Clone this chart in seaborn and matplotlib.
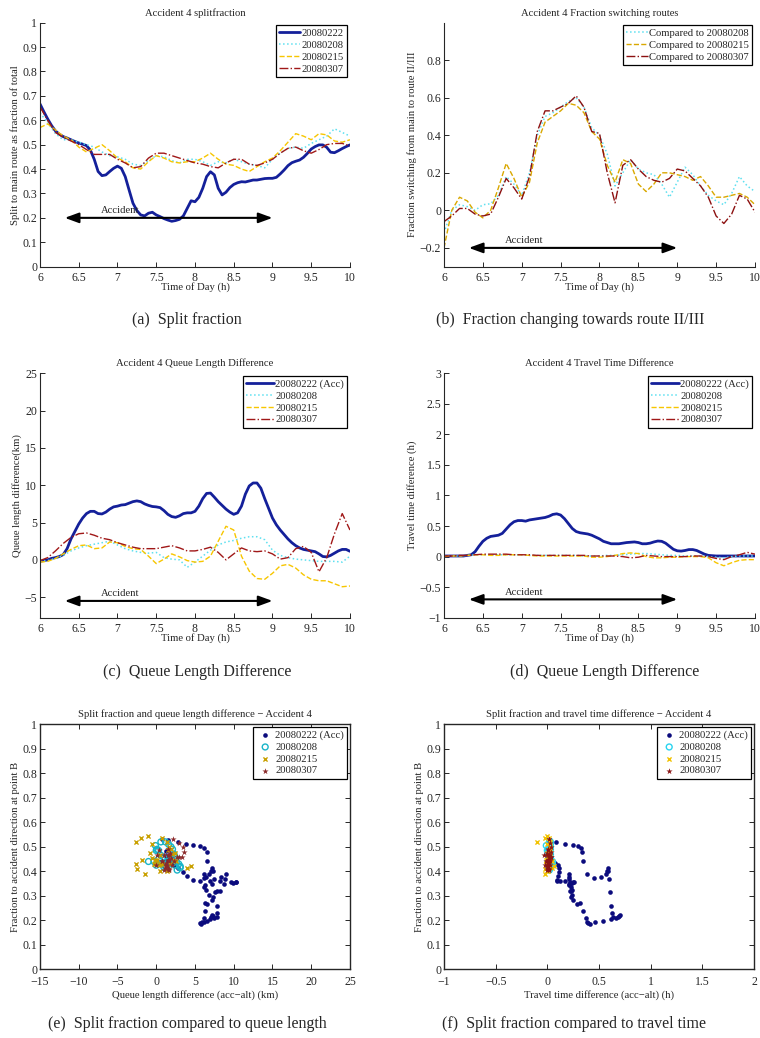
import matplotlib
matplotlib.use('Agg')
import matplotlib.pyplot as plt
import numpy as np
import pandas as pd
import seaborn as sns

# --- data ---------------------------------------------------------------
HOURS = [6.0, 6.1, 6.2, 6.3, 6.4, 6.5, 6.6, 6.7, 6.8, 6.9,
         7.0, 7.1, 7.2, 7.3, 7.4, 7.5, 7.6, 7.7, 7.8, 7.9,
         8.0, 8.1, 8.2, 8.3, 8.4, 8.5, 8.6, 8.7, 8.8, 8.9,
         9.0, 9.1, 9.2, 9.3, 9.4, 9.5, 9.6, 9.7, 9.8, 9.9, 10.0]

HOURS_FINE = [6.0, 6.05, 6.1, 6.15, 6.2, 6.25, 6.3, 6.35, 6.4, 6.45,
              6.5, 6.55, 6.6, 6.65, 6.7, 6.75, 6.8, 6.85, 6.9, 6.95,
              7.0, 7.05, 7.1, 7.15, 7.2, 7.25, 7.3, 7.35, 7.4, 7.45,
              7.5, 7.55, 7.6, 7.65, 7.7, 7.75, 7.8, 7.85, 7.9, 7.95,
              8.0, 8.05, 8.1, 8.15, 8.2, 8.25, 8.3, 8.35, 8.4, 8.45,
              8.5, 8.55, 8.6, 8.65, 8.7, 8.75, 8.8, 8.85, 8.9, 8.95,
              9.0, 9.05, 9.1, 9.15, 9.2, 9.25, 9.3, 9.35, 9.4, 9.45,
              9.5, 9.55, 9.6, 9.65, 9.7, 9.75, 9.8, 9.85, 9.9, 9.95, 10.0]

# accident day (20080222), fine grid
SPLIT_ACC = [0.667, 0.635, 0.605, 0.578, 0.556, 0.543, 0.533, 0.527, 0.520, 0.513,
             0.507, 0.502, 0.496, 0.478, 0.440, 0.390, 0.373, 0.376, 0.390, 0.403,
             0.412, 0.403, 0.369, 0.314, 0.260, 0.230, 0.212, 0.208, 0.219, 0.223,
             0.212, 0.205, 0.197, 0.191, 0.186, 0.189, 0.194, 0.208, 0.239, 0.270,
             0.266, 0.284, 0.321, 0.369, 0.389, 0.376, 0.321, 0.294, 0.305, 0.324,
             0.337, 0.344, 0.348, 0.347, 0.351, 0.355, 0.355, 0.358, 0.361, 0.362,
             0.362, 0.366, 0.380, 0.396, 0.414, 0.426, 0.432, 0.437, 0.448, 0.464,
             0.482, 0.492, 0.499, 0.499, 0.489, 0.469, 0.467, 0.475, 0.484, 0.492, 0.499]
QUEUE_ACC = [-0.2, -0.1, 0.0, 0.2, 0.3, 0.45, 0.7, 1.5, 2.8, 3.8,
             4.8, 5.6, 6.2, 6.5, 6.5, 6.2, 6.15, 6.4, 6.8, 7.1,
             7.2, 7.35, 7.4, 7.6, 7.8, 7.9, 7.8, 7.5, 7.3, 7.15,
             7.1, 7.0, 6.6, 6.1, 5.8, 5.7, 5.9, 6.2, 6.3, 6.3,
             6.5, 7.2, 8.2, 8.9, 8.95, 8.4, 7.8, 7.3, 6.8, 6.4,
             6.1, 6.3, 7.2, 8.8, 9.9, 10.3, 10.3, 9.6, 8.2, 6.9,
             5.6, 4.7, 4.0, 3.4, 2.8, 2.3, 1.9, 1.6, 1.4, 1.3,
             1.2, 1.1, 0.8, 0.45, 0.4, 0.6, 0.9, 1.2, 1.4, 1.4, 1.15]
TRAVEL_ACC = [0.01, 0.01, 0.01, 0.01, 0.01, 0.01, 0.02, 0.03, 0.08, 0.17,
              0.25, 0.30, 0.33, 0.34, 0.35, 0.38, 0.45, 0.52, 0.57, 0.59,
              0.59, 0.58, 0.60, 0.61, 0.62, 0.63, 0.64, 0.66, 0.69, 0.70,
              0.68, 0.62, 0.54, 0.46, 0.41, 0.39, 0.38, 0.37, 0.35, 0.32,
              0.29, 0.25, 0.23, 0.21, 0.21, 0.21, 0.22, 0.23, 0.235, 0.24,
              0.23, 0.21, 0.21, 0.22, 0.24, 0.255, 0.25, 0.22, 0.17, 0.12,
              0.095, 0.09, 0.10, 0.115, 0.115, 0.10, 0.07, 0.04, 0.02, 0.015,
              0.01, 0.01, 0.01, 0.01, 0.01, 0.01, 0.01, 0.01, 0.01, 0.01, 0.01]

# reference days, coarse grid
SPLIT_0208 = [0.63, 0.59, 0.545, 0.52, 0.52, 0.51, 0.50, 0.49, 0.47, 0.455,
              0.45, 0.44, 0.42, 0.415, 0.435, 0.455, 0.45, 0.435, 0.425, 0.44,
              0.44, 0.43, 0.415, 0.43, 0.425, 0.44, 0.43, 0.42, 0.415, 0.405,
              0.44, 0.465, 0.485, 0.49, 0.485, 0.505, 0.52, 0.535, 0.565, 0.55, 0.535]
SPLIT_0215 = [0.57, 0.585, 0.56, 0.535, 0.52, 0.49, 0.47, 0.485, 0.50, 0.475,
              0.445, 0.43, 0.405, 0.40, 0.43, 0.455, 0.445, 0.43, 0.425, 0.43,
              0.43, 0.445, 0.465, 0.44, 0.42, 0.415, 0.40, 0.39, 0.41, 0.43,
              0.445, 0.475, 0.51, 0.545, 0.535, 0.52, 0.545, 0.54, 0.515, 0.51, 0.52]
SPLIT_0307 = [0.655, 0.60, 0.55, 0.53, 0.515, 0.50, 0.48, 0.46, 0.46, 0.46,
              0.44, 0.425, 0.405, 0.41, 0.445, 0.465, 0.465, 0.455, 0.445, 0.435,
              0.425, 0.42, 0.41, 0.405, 0.425, 0.44, 0.44, 0.42, 0.415, 0.425,
              0.44, 0.465, 0.485, 0.49, 0.475, 0.465, 0.48, 0.50, 0.505, 0.505, 0.495]

SWITCH_0208 = [-0.12, 0.0, 0.03, 0.02, 0.0, 0.03, 0.035, 0.08, 0.18, 0.14,
               0.08, 0.20, 0.40, 0.50, 0.52, 0.55, 0.58, 0.60, 0.55, 0.44,
               0.40, 0.30, 0.13, 0.20, 0.27, 0.22, 0.20, 0.19, 0.14, 0.07,
               0.15, 0.23, 0.19, 0.13, 0.08, 0.05, 0.03, 0.09, 0.18, 0.13, 0.10]
SWITCH_0215 = [-0.20, 0.0, 0.07, 0.05, -0.01, -0.04, 0.0, 0.12, 0.25, 0.17,
               0.07, 0.15, 0.36, 0.47, 0.50, 0.53, 0.57, 0.56, 0.52, 0.42,
               0.38, 0.24, 0.15, 0.27, 0.25, 0.14, 0.10, 0.14, 0.20, 0.20,
               0.19, 0.18, 0.16, 0.18, 0.13, 0.07, 0.07, 0.08, 0.09, 0.07, 0.03]
SWITCH_0307 = [-0.06, -0.03, 0.01, 0.01, -0.02, -0.03, -0.02, 0.07, 0.17, 0.12,
               0.06, 0.18, 0.42, 0.53, 0.53, 0.55, 0.57, 0.61, 0.55, 0.42,
               0.41, 0.20, 0.04, 0.24, 0.27, 0.22, 0.18, 0.16, 0.15, 0.17,
               0.22, 0.21, 0.17, 0.13, 0.07, -0.03, -0.07, -0.02, 0.08, 0.06, -0.01]

QUEUE_0208 = [-0.2, -0.1, 0.2, 0.6, 1.2, 1.6, 1.9, 2.1, 2.3, 2.5,
              2.0, 1.5, 1.2, 1.0, 0.9, 1.0, 0.3, 0.1, 0.0, -1.0,
              -0.3, 0.5, 1.3, 2.0, 2.4, 2.6, 2.9, 3.1, 3.1, 2.7,
              1.3, 0.6, 0.3, 0.1, 0.0, -0.1, -0.2, -0.2, -0.2, -0.3, 0.5]
QUEUE_0215 = [-0.3, -0.2, 0.2, 0.8, 1.4, 1.9, 2.0, 1.5, 1.6, 2.4,
              2.3, 1.8, 1.5, 1.4, 0.5, -0.5, 0.1, 0.8, 0.4, -0.1,
              -0.3, -0.2, 0.5, 2.5, 4.5, 4.0, 0.5, -1.5, -2.5, -2.6,
              -1.8, -0.8, -0.6, -1.1, -2.0, -2.6, -2.8, -2.8, -3.2, -3.6, -3.5]
QUEUE_0307 = [-0.1, 0.3, 1.2, 2.2, 3.0, 3.5, 3.6, 3.3, 2.9, 2.7,
              2.3, 2.0, 1.7, 1.5, 1.5, 1.5, 1.7, 1.9, 1.6, 1.2,
              1.2, 1.4, 1.7, 1.0, 0.0, 0.8, 1.6, 1.2, 1.1, 1.2,
              0.8, 0.1, 0.3, 1.5, 1.8, 1.0, -1.6, 0.3, 3.5, 6.2, 4.0]

TRAVEL_0208 = [0.01, 0.01, 0.01, 0.02, 0.03, 0.03, 0.03, 0.03, 0.03, 0.03,
               0.03, 0.02, 0.02, 0.02, 0.02, 0.02, 0.02, 0.02, 0.01, 0.01,
               0.01, 0.02, 0.02, 0.03, 0.04, 0.05, 0.05, 0.04, 0.03, 0.02,
               0.02, 0.01, 0.01, 0.01, 0.0, -0.01, -0.02, 0.0, 0.01, 0.01, 0.01]
TRAVEL_0215 = [0.0, 0.01, 0.01, 0.02, 0.03, 0.03, 0.02, 0.02, 0.03, 0.03,
               0.03, 0.02, 0.01, 0.01, 0.01, 0.01, 0.01, 0.01, 0.01, -0.01,
               -0.01, 0.0, 0.02, 0.05, 0.06, 0.05, 0.0, -0.02, -0.02, -0.01,
               -0.01, 0.0, 0.0, 0.0, -0.02, -0.10, -0.15, -0.10, -0.06, -0.05, -0.05]
TRAVEL_0307 = [0.01, 0.01, 0.02, 0.02, 0.03, 0.04, 0.04, 0.04, 0.04, 0.03,
               0.03, 0.03, 0.02, 0.02, 0.02, 0.02, 0.02, 0.02, 0.02, 0.01,
               0.01, 0.01, 0.01, 0.0, -0.02, -0.01, 0.02, 0.01, 0.0, 0.0,
               0.0, 0.0, 0.01, 0.01, 0.0, -0.03, -0.05, 0.0, 0.03, 0.07, 0.04]

DAYS = ['20080222', '20080208', '20080215', '20080307']
ACC_START, ACC_END = 6.32, 9.0          # accident period (h)
SCATTER_WINDOW = (6.3, 9.5)             # time window used for scatter panels

X_TICKS = [6, 6.5, 7, 7.5, 8, 8.5, 9, 9.5, 10]
X_TICK_LABELS = ['6', '6.5', '7', '7.5', '8', '8.5', '9', '9.5', '10']

# --- style ----------------------------------------------------------------
sns.set_style('ticks')
plt.rcParams['font.family'] = ['Liberation Serif', 'DejaVu Serif']
plt.rcParams['axes.linewidth'] = 0.8
FS = 7.7
TICK_FS = 8.5

NAVY = '#14209a'
LINE_STYLES = {
    '20080222': dict(color=NAVY, lw=2.0, ls='-'),
    '20080208': dict(color='#5ee0f0', lw=1.1, ls=':'),
    '20080215': dict(color='#f7c600', lw=1.0, ls='--'),
    '20080307': dict(color='#a01818', lw=1.0, ls='-.'),
}


def fmt(v):
    s = f'{v:g}'
    return s.replace('-', '\u2212')


def style_ticks(ax, xpad=3.5, **kw):
    ax.tick_params(direction='in', length=3.5, width=0.7, labelsize=TICK_FS, **kw)
    ax.tick_params(axis='x', pad=xpad)
    ax.tick_params(axis='y', pad=2)


def time_axis(ax, title, ylabel, ylim, yticks):
    ax.set_xlim(6, 10)
    ax.set_ylim(*ylim)
    ax.set_xticks(X_TICKS)
    ax.set_xticklabels(X_TICK_LABELS)
    ax.set_yticks(yticks)
    ax.set_yticklabels([fmt(v) for v in yticks])
    style_ticks(ax)
    sns.despine(ax=ax)
    ax.set_title(title, fontsize=FS, pad=5)
    ax.set_xlabel('Time of Day (h)', fontsize=FS, labelpad=-1)
    ax.set_ylabel(ylabel, fontsize=FS, labelpad=2)


def accident_arrow(ax, level):
    ax.annotate('', xy=(ACC_END, level), xytext=(ACC_START, level),
                arrowprops=dict(arrowstyle='<|-|>,head_length=0.6,head_width=0.22',
                                color='k', lw=1.5, mutation_scale=14,
                                shrinkA=0, shrinkB=0))
    ax.annotate('Accident', ((ACC_START + ACC_END) / 2 - 0.63, level), xytext=(0, 2),
                textcoords='offset points', ha='center', va='bottom', fontsize=FS)


def box_legend(ax, **kw):
    leg = ax.legend(loc='upper right', fontsize=FS, fancybox=False, framealpha=1,
                    edgecolor='k', borderaxespad=0.25, borderpad=0.3,
                    labelspacing=0.22, handletextpad=0.15, **kw)
    leg.get_frame().set_linewidth(0.9)
    return leg


fig = plt.figure(figsize=(7.6, 10.38), dpi=100)
ax_a = fig.add_axes([0.0526, 0.7431, 0.4079, 0.2351])
ax_b = fig.add_axes([0.5842, 0.7431, 0.4092, 0.2351])
ax_c = fig.add_axes([0.0526, 0.4049, 0.4079, 0.2355])
ax_d = fig.add_axes([0.5842, 0.4049, 0.4092, 0.2355])
ax_e = fig.add_axes([0.0526, 0.0662, 0.4079, 0.2360])
ax_f = fig.add_axes([0.5842, 0.0662, 0.4079, 0.2360])

# (a) split fraction
for day, xs, ys in [('20080222', HOURS_FINE, SPLIT_ACC), ('20080208', HOURS, SPLIT_0208),
                    ('20080215', HOURS, SPLIT_0215), ('20080307', HOURS, SPLIT_0307)]:
    st = LINE_STYLES[day]
    sns.lineplot(x=xs, y=ys, ax=ax_a, color=st['color'], lw=st['lw'], ls=st['ls'], label=day)
time_axis(ax_a, 'Accident 4 splitfraction', 'Split to main route as fraction of total',
          (0, 1), [0, 0.1, 0.2, 0.3, 0.4, 0.5, 0.6, 0.7, 0.8, 0.9, 1])
accident_arrow(ax_a, 0.2)
box_legend(ax_a, handlelength=2.0)

# (b) fraction switching routes
B_STYLES = {'20080208': dict(color='#5ee0f0', lw=1.1, ls=':'),
            '20080215': dict(color='#d9a800', lw=1.0, ls='--'),
            '20080307': dict(color='#8c1010', lw=1.0, ls='-.')}
for day, ys in [('20080208', SWITCH_0208), ('20080215', SWITCH_0215), ('20080307', SWITCH_0307)]:
    st = B_STYLES[day]
    sns.lineplot(x=HOURS, y=ys, ax=ax_b, color=st['color'], lw=st['lw'], ls=st['ls'],
                 label=f'Compared to {day}')
time_axis(ax_b, 'Accident 4 Fraction switching routes', 'Fraction switching from main to route II/III',
          (-0.3, 1.0), [-0.2, 0, 0.2, 0.4, 0.6, 0.8])
accident_arrow(ax_b, -0.2)
box_legend(ax_b, handlelength=2.0)

# (c) queue length difference
for day, xs, ys in [('20080222', HOURS_FINE, QUEUE_ACC), ('20080208', HOURS, QUEUE_0208),
                    ('20080215', HOURS, QUEUE_0215), ('20080307', HOURS, QUEUE_0307)]:
    st = LINE_STYLES[day]
    lab = day + ' (Acc)' if day == '20080222' else day
    sns.lineplot(x=xs, y=ys, ax=ax_c, color=st['color'], lw=st['lw'], ls=st['ls'], label=lab)
time_axis(ax_c, 'Accident 4 Queue Length Difference', 'Queue length difference(km)',
          (-7.75, 25), [-5, 0, 5, 10, 15, 20, 25])
accident_arrow(ax_c, -5.5)
box_legend(ax_c, handlelength=2.6)

# (d) travel time difference
for day, xs, ys in [('20080222', HOURS_FINE, TRAVEL_ACC), ('20080208', HOURS, TRAVEL_0208),
                    ('20080215', HOURS, TRAVEL_0215), ('20080307', HOURS, TRAVEL_0307)]:
    st = LINE_STYLES[day]
    lab = day + ' (Acc)' if day == '20080222' else day
    sns.lineplot(x=xs, y=ys, ax=ax_d, color=st['color'], lw=st['lw'], ls=st['ls'], label=lab)
time_axis(ax_d, 'Accident 4 Travel Time Difference', 'Travel time difference (h)',
          (-1, 3), [-1, -0.5, 0, 0.5, 1, 1.5, 2, 2.5, 3])
accident_arrow(ax_d, -0.7)
box_legend(ax_d, handlelength=2.6)


# (e), (f) scatter of split fraction against queue / travel-time difference
def in_window(hours):
    h = np.asarray(hours)
    return (h >= SCATTER_WINDOW[0]) & (h <= SCATTER_WINDOW[1])


def scatter_panel(ax, pairs, colors, title, xlabel, xlim, xticks):
    markers = {'20080222': dict(marker='o', s=11, linewidth=0),
               '20080208': dict(marker='o', s=18, facecolor='none', linewidth=1.0),
               '20080215': dict(marker='x', s=9, linewidth=1.0),
               '20080307': dict(marker='*', s=22, linewidth=0)}
    for day, hours, xs, ys in pairs:
        m = in_window(hours)
        df = pd.DataFrame({'x': np.asarray(xs)[m], 'y': np.asarray(ys)[m]})
        lab = day + ' (Acc)' if day == '20080222' else day
        kw = dict(markers[day])
        if kw.get('facecolor') == 'none':
            kw['edgecolor'] = colors[day]
        sns.scatterplot(data=df, x='x', y='y', ax=ax, color=colors[day], label=lab, **kw)
    ax.set_xlim(*xlim)
    ax.set_ylim(0, 1)
    ax.set_xticks(xticks)
    ax.set_xticklabels([fmt(v) for v in xticks])
    yt = [0, 0.1, 0.2, 0.3, 0.4, 0.5, 0.6, 0.7, 0.8, 0.9, 1]
    ax.set_yticks(yt)
    ax.set_yticklabels([fmt(v) for v in yt])
    style_ticks(ax, xpad=5, top=True, right=True)
    for sp in ax.spines.values():
        sp.set_visible(True)
        sp.set_linewidth(1.0)
    ax.set_title(title, fontsize=FS, pad=5)
    ax.set_xlabel(xlabel, fontsize=FS, labelpad=1)
    ax.set_ylabel('Fraction to accident direction at point B', fontsize=FS, labelpad=2)
    leg = box_legend(ax, handlelength=1.6, markerscale=1.0)
    return leg


scatter_panel(ax_e,
              [('20080222', HOURS_FINE, QUEUE_ACC, SPLIT_ACC),
               ('20080208', HOURS, QUEUE_0208, SPLIT_0208),
               ('20080215', HOURS, QUEUE_0215, SPLIT_0215),
               ('20080307', HOURS, QUEUE_0307, SPLIT_0307)],
              {'20080222': '#0b0b7d', '20080208': '#18b4c8', '20080215': '#c9a000', '20080307': '#8b2a2a'},
              'Split fraction and queue length difference \u2212 Accident 4',
              'Queue length difference (acc\u2212alt) (km)', (-15, 25),
              [-15, -10, -5, 0, 5, 10, 15, 20, 25])
scatter_panel(ax_f,
              [('20080222', HOURS_FINE, TRAVEL_ACC, SPLIT_ACC),
               ('20080208', HOURS, TRAVEL_0208, SPLIT_0208),
               ('20080215', HOURS, TRAVEL_0215, SPLIT_0215),
               ('20080307', HOURS, TRAVEL_0307, SPLIT_0307)],
              {'20080222': '#0b0b7d', '20080208': '#28d4f0', '20080215': '#f2c200', '20080307': '#8b1515'},
              'Split fraction and travel time difference \u2212 Accident 4',
              'Travel time difference (acc\u2212alt) (h)', (-1, 2),
              [-1, -0.5, 0, 0.5, 1, 1.5, 2])

# sub-captions
CAPTIONS = [(0.246, 0.6917, '(a)  Split fraction'),
            (0.750, 0.6917, '(b)  Fraction changing towards route II/III'),
            (0.259, 0.3526, '(c)  Queue Length Difference'),
            (0.795, 0.3526, '(d)  Queue Length Difference'),
            (0.247, 0.0135, '(e)  Split fraction compared to queue length'),
            (0.755, 0.0135, '(f)  Split fraction compared to travel time')]
for cx, cy, txt in CAPTIONS:
    fig.text(cx, cy, txt, ha='center', va='center', fontsize=11.5)

fig.savefig('out.png', dpi=100)
